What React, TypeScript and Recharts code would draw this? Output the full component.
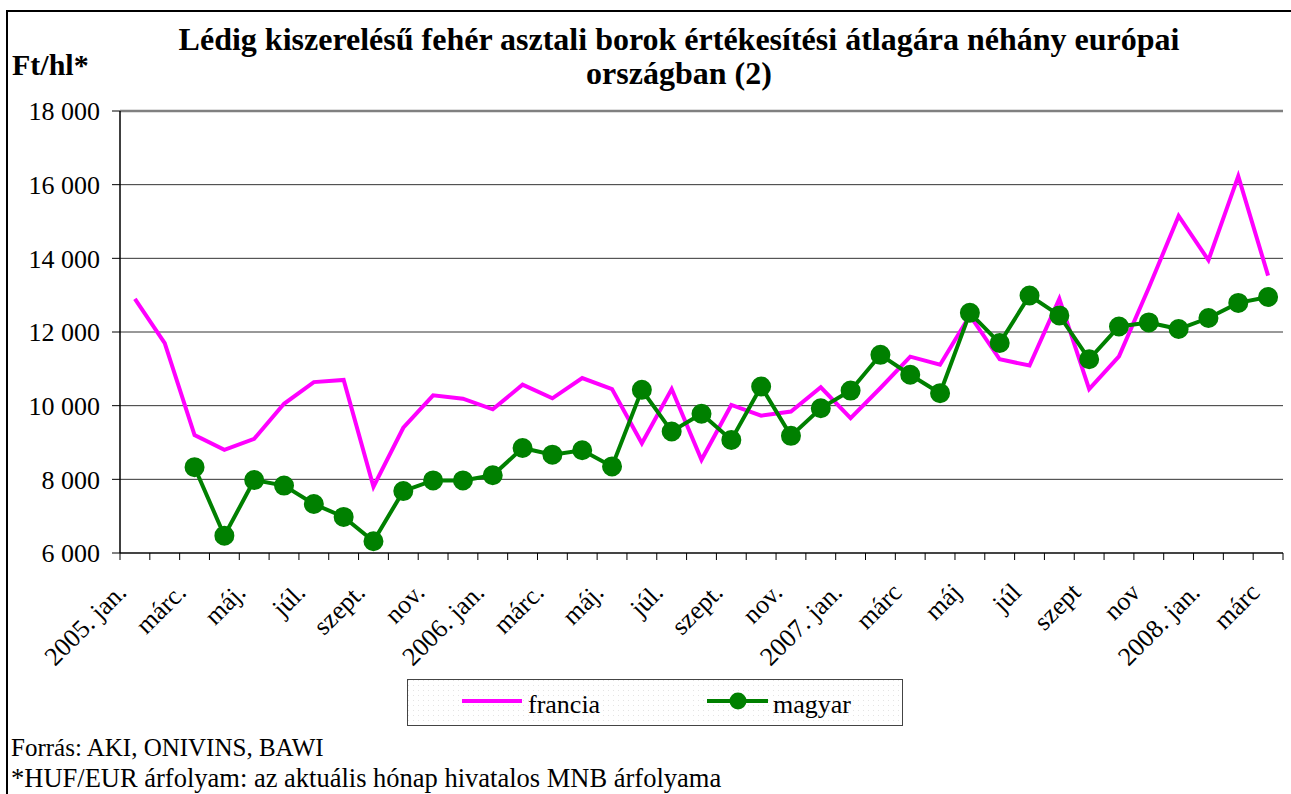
import React from 'react';
import { LineChart, Line, XAxis, YAxis, CartesianGrid, Legend, ReferenceLine } from 'recharts';

const FONT = "'Liberation Serif', 'Times New Roman', Times, serif";
const PINK = '#FF00FF';
const GREEN = '#008000';

// 39 months: 2005 jan .. 2008 márc
const categories = [
  '2005-01', '2005-02', '2005-03', '2005-04', '2005-05', '2005-06', '2005-07', '2005-08', '2005-09', '2005-10', '2005-11', '2005-12',
  '2006-01', '2006-02', '2006-03', '2006-04', '2006-05', '2006-06', '2006-07', '2006-08', '2006-09', '2006-10', '2006-11', '2006-12',
  '2007-01', '2007-02', '2007-03', '2007-04', '2007-05', '2007-06', '2007-07', '2007-08', '2007-09', '2007-10', '2007-11', '2007-12',
  '2008-01', '2008-02', '2008-03',
];

// labels shown at every second month
const tickLabels = [
  '2005. jan.', 'márc.', 'máj.', 'júl.', 'szept.', 'nov.',
  '2006. jan.', 'márc.', 'máj.', 'júl.', 'szept.', 'nov.',
  '2007. jan.', 'márc', 'máj', 'júl', 'szept', 'nov',
  '2008. jan.', 'márc',
];

const franciaValues = [
  12900, 11700, 9200, 8800, 9100, 10050, 10640, 10700, 7800, 9400, 10280, 10190,
  9900, 10570, 10200, 10750, 10450, 8980, 10450, 8530, 10020, 9730, 9840, 10500,
  9660, 10480, 11330, 11110, 12450, 11260, 11090, 12900, 10450, 11340, 13200, 15150,
  13950, 16230, 13530,
];

const magyarValues: (number | null)[] = [
  null, null, 8330, 6470, 7980, 7830, 7330, 6980, 6320, 7680, 7970, 7970,
  8110, 8850, 8670, 8790, 8350, 10430, 9300, 9780, 9070, 10520, 9180, 9930,
  10410, 11380, 10840, 10340, 12520, 11700, 12990, 12450, 11260, 12150, 12260, 12080,
  12380, 12790, 12950,
];

const yTicks = [6000, 8000, 10000, 12000, 14000, 16000, 18000];

const titleLines = [
  'Lédig kiszerelésű fehér asztali borok értékesítési átlagára néhány európai',
  'országban (2)',
];
const yUnit = 'Ft/hl*';
const footnotes = [
  'Forrás: AKI, ONIVINS, BAWI',
  '*HUF/EUR árfolyam: az aktuális hónap hivatalos MNB árfolyama',
];
const seriesNames = { francia: 'francia', magyar: 'magyar' };

const PLOT_L = 120;
const PLOT_R = 1283;
const BAND = (PLOT_R - PLOT_L) / categories.length;

const fmt = (v: number) => String(v).replace(/\B(?=(\d{3})+(?!\d))/g, ' ');

const XTick = (props: any) => {
  const { x, y, index } = props;
  const i = typeof index === 'number' ? index : props.payload?.index ?? 0;
  const half = BAND / 2;
  const label = i % 2 === 0 ? tickLabels[i / 2] : null;
  return (
    <g>
      <line x1={x - half} x2={x - half} y1={y} y2={y + 7} stroke="#000" strokeWidth={1} />
      {i === categories.length - 1 && (
        <line x1={x + half} x2={x + half} y1={y} y2={y + 7} stroke="#000" strokeWidth={1} />
      )}
      {label && (
        <text
          transform={`translate(${x - 7},${y + 41}) rotate(-45)`}
          textAnchor="end"
          fontSize={26}
          fontFamily={FONT}
          fill="#000"
        >
          {label}
        </text>
      )}
    </g>
  );
};

const LegendBox = () => (
  <svg width={497} height={48} style={{ display: 'block' }}>
    <defs>
      <pattern id="legdots" width="5" height="5" patternUnits="userSpaceOnUse">
        <rect width="5" height="5" fill="#fff" />
        <rect x="1" y="1" width="1" height="1" fill="#e4e4e4" />
      </pattern>
    </defs>
    <rect x={0.5} y={0.5} width={495} height={46} fill="url(#legdots)" stroke="#444" strokeWidth={1} />
    <line x1={55} x2={115} y1={22} y2={22} stroke={PINK} strokeWidth={4} />
    <text x={121} y={34} fontSize={26} fontFamily={FONT} fill="#000">{seriesNames.francia}</text>
    <line x1={300} x2={361} y1={22} y2={22} stroke={GREEN} strokeWidth={4} />
    <circle cx={331} cy={22} r={8.5} fill={GREEN} />
    <text x={366} y={34} fontSize={26} fontFamily={FONT} fill="#000">{seriesNames.magyar}</text>
  </svg>
);

export default function App() {
  const data = categories.map((c, i) => ({
    month: c,
    francia: franciaValues[i],
    magyar: magyarValues[i],
  }));

  return (
    <div style={{ position: 'absolute', left: 0, top: 0, width: 1291, height: 794, background: '#fff', overflow: 'hidden' }}>
      <div
        style={{
          position: 'absolute', left: 6, top: 10, width: 1285, height: 784, boxSizing: 'border-box',
          borderLeft: '2px solid #000', borderTop: '2px solid #000',
        }}
      />
      <div style={{ position: 'absolute', left: 0, top: 0 }}>
        <LineChart width={1291} height={794} data={data} margin={{ top: 111, right: 8, bottom: 181, left: 50 }}>
          <CartesianGrid vertical={false} stroke="#333" strokeWidth={1} />
          <ReferenceLine y={18000} stroke="#808080" strokeWidth={2.5} />
          <XAxis
            dataKey="month"
            interval={0}
            tickLine={false}
            tickSize={0}
            tickMargin={0}
            height={60}
            padding={{ left: BAND / 2, right: BAND / 2 }}
            axisLine={{ stroke: '#444', strokeWidth: 2 }}
            tick={<XTick />}
          />
          <YAxis
            domain={[6000, 18000]}
            ticks={yTicks}
            width={70}
            tickSize={8}
            tickMargin={12}
            interval={0}
            axisLine={{ stroke: '#000', strokeWidth: 1.5 }}
            tickLine={{ stroke: '#000', strokeWidth: 1 }}
            tick={{ fill: '#000', fontSize: 26, fontFamily: FONT }}
            tickFormatter={fmt}
          />
          <YAxis
            yAxisId="r"
            orientation="right"
            domain={[6000, 18000]}
            width={0}
            tick={false}
            tickLine={false}
            axisLine={{ stroke: '#808080', strokeWidth: 2.5 }}
          />
          <Legend
            verticalAlign="middle"
            align="center"
            layout="horizontal"
            wrapperStyle={{ left: 407, top: 679, width: 497, height: 48, margin: 0, padding: 0 }}
            content={() => <LegendBox />}
          />
          <Line
            type="linear"
            dataKey="francia"
            name={seriesNames.francia}
            stroke={PINK}
            strokeWidth={4}
            dot={false}
            activeDot={false}
            isAnimationActive={false}
          />
          <Line
            type="linear"
            dataKey="magyar"
            name={seriesNames.magyar}
            stroke={GREEN}
            strokeWidth={4}
            dot={{ r: 9, fill: GREEN, stroke: GREEN, strokeWidth: 2 }}
            activeDot={false}
            isAnimationActive={false}
          />
        </LineChart>
      </div>
      <svg
        width={1291}
        height={794}
        style={{ position: 'absolute', left: 0, top: 0, pointerEvents: 'none' }}
      >
        <text x={679} y={50} textAnchor="middle" fontSize={32} fontWeight="bold" fontFamily={FONT} fill="#000">
          {titleLines[0]}
        </text>
        <text x={679} y={84} textAnchor="middle" fontSize={32} fontWeight="bold" fontFamily={FONT} fill="#000">
          {titleLines[1]}
        </text>
        <text x={12} y={75} fontSize={30} fontWeight="bold" fontFamily={FONT} fill="#000">
          {yUnit}
        </text>
        <text x={11} y={756} fontSize={25} fontFamily={FONT} fill="#000">
          {footnotes[0]}
        </text>
        <text x={11} y={787} fontSize={26.5} fontFamily={FONT} fill="#000">
          {footnotes[1]}
        </text>
      </svg>
    </div>
  );
}
